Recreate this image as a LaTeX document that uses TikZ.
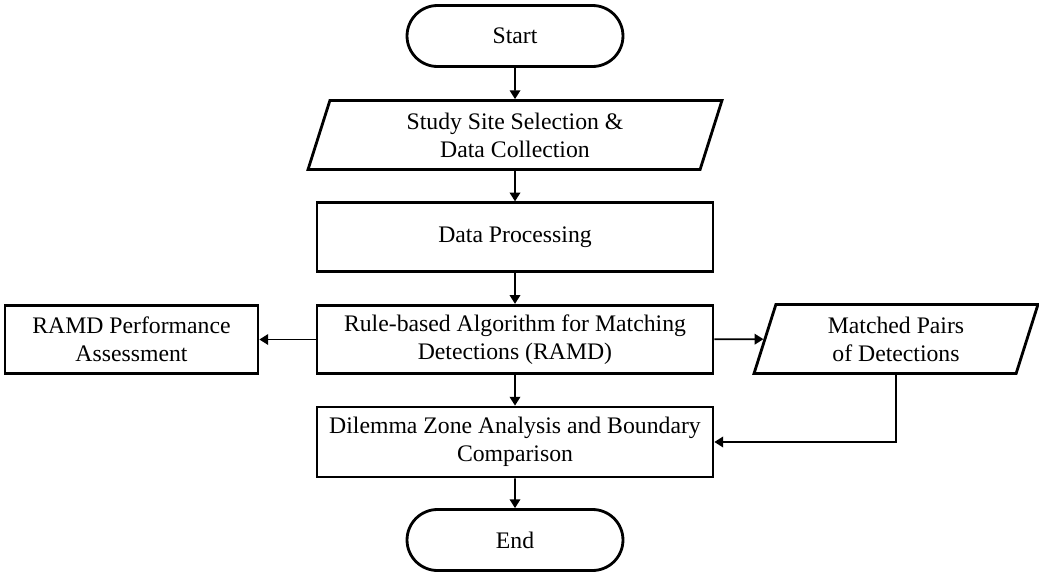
\documentclass[tikz,border=0pt]{standalone}
\usepackage{fontspec}
\setmainfont{Liberation Serif}
\usetikzlibrary{shapes.geometric,shapes.misc,arrows.meta}

\begin{document}
\begin{tikzpicture}[x=0.02cm, y=-0.02cm,
    every node/.style={font=\fontsize{13.5}{16}\selectfont, align=center, inner sep=0pt},
    term/.style={draw, line width=1.6pt, rounded rectangle, minimum width=4.32cm, minimum height=1.22cm},
    proc/.style={draw, line width=1.6pt, rectangle, minimum width=7.92cm, minimum height=1.37cm},
    io/.style={draw, line width=1.6pt, trapezium, trapezium left angle=64, trapezium right angle=116,
        trapezium stretches body, minimum height=1.38cm},
    arr/.style={line width=1pt, -{Triangle[length=5pt,width=6pt]}}]
    \useasboundingbox (0,0) rectangle (1039,575);
    \node[term] (start) at (515,36) {Start};
    \node[io, minimum width=8.28cm] (site) at (515,135) {Study Site Selection \&\\Data Collection};
    \node[proc] (dproc) at (515,237) {Data Processing};
    \node[proc] (ramd) at (515,339.5) {Rule-based Algorithm for Matching\\Detections (RAMD)};
    \node[proc, minimum width=5.06cm] (perf) at (131.5,339.5) {RAMD Performance\\Assessment};
    \node[io, minimum width=5.68cm] (pairs) at (896,339) {Matched Pairs\\of Detections};
    \node[proc, minimum height=1.4cm] (dz) at (515,442) {Dilemma Zone Analysis and Boundary\\Comparison};
    \node[term] (end) at (515,540) {End};
    \draw[arr] (start) -- (site);
    \draw[arr] (site) -- (dproc);
    \draw[arr] (dproc) -- (ramd);
    \draw[arr] (ramd) -- (perf);
    \draw[arr] (ramd) -- (pairs);
    \draw[arr] (ramd) -- (dz);
    \draw[arr] (pairs.center |- pairs.south) |- (dz.east);
    \draw[arr] (dz) -- (end);
\end{tikzpicture}
\end{document}
